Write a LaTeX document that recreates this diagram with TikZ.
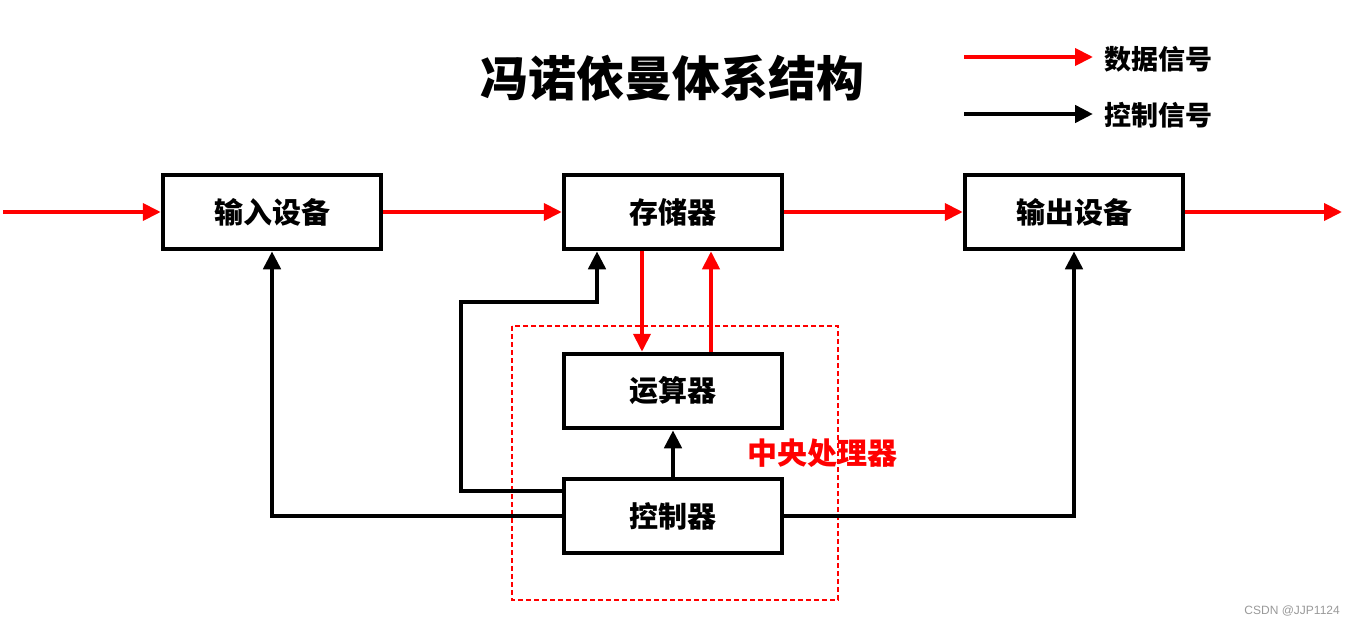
\documentclass[tikz,border=0pt]{standalone}
\usepackage{fontspec}
\newfontfamily\cjk{Noto Sans CJK SC}
\newfontfamily\markfont{Liberation Sans}
\usetikzlibrary{arrows.meta}

\begin{document}
\begin{tikzpicture}[x=1pt,y=-1pt]
\tikzstyle{every node}+=[inner sep=0pt]
\tikzstyle{unit}=[draw=black, line width=4.5pt, minimum width=218pt, minimum height=74pt, font=\cjk\bfseries\fontsize{29}{29}\selectfont]
\tikzstyle{data}=[red, line width=4pt, -{Triangle[length=18pt,width=17pt]}]
\tikzstyle{ctrl}=[black, line width=4.5pt, -{Triangle[length=18pt,width=17pt]}]
\useasboundingbox (0,0) rectangle (1355,626);
% title and legend
\node (title) at (672,78) {\cjk\bfseries\fontsize{48}{48}\selectfont 冯诺依曼体系结构};
\coordinate (d1) at (964,57);
\coordinate (d2) at (1093,57);
\coordinate (c1) at (964,114);
\coordinate (c2) at (1093,114);
\draw [data] (d1) -- (d2);
\draw [ctrl] (c1) -- (c2);
\node [anchor=west] (dlabel) at (1104,59) {\cjk\bfseries\fontsize{27}{27}\selectfont 数据信号};
\node [anchor=west] (clabel) at (1104,115) {\cjk\bfseries\fontsize{27}{27}\selectfont 控制信号};
% units
\node [unit] (inp) at (272,212) {输入设备};
\node [unit] (mem) at (673,212) {存储器};
\node [unit] (out) at (1074,212) {输出设备};
\node [unit] (alu) at (673,391) {运算器};
\node [unit] (ctl) at (673,516) {控制器};
% cpu
\draw [red, line width=1.3pt, dash pattern=on 5pt off 3pt] (512,326) rectangle (838,600);
\node (cpu) at (822,453) {\cjk\bfseries\fontsize{30}{30}\selectfont\color{red}中央处理器};
% data signals
\coordinate (src) at (3,212);
\coordinate (sink) at (1342,212);
\draw [data] (src) -- (inp);
\draw [data] (inp) -- (mem);
\draw [data] (mem) -- (out);
\draw [data] (out) -- (sink);
\draw [data] ([xshift=-31pt]mem.south) -- ([xshift=-31pt]alu.north);
\draw [data] ([xshift=38pt]alu.north) -- ([xshift=38pt]mem.south);
% control signals
\coordinate (turn) at (461,302);
\draw [ctrl] (ctl) -- (alu);
\draw [ctrl] ([yshift=25pt]ctl.west) -| (turn) -| ([xshift=-76pt]mem.south);
\draw [ctrl] (ctl.west) -| (inp.south);
\draw [ctrl] (ctl.east) -| (out.south);
\node [anchor=east] (mark) at (1340,611) {\markfont\fontsize{12}{12}\selectfont\color[gray]{0.6}CSDN @JJP1124};
\end{tikzpicture}
\end{document}
